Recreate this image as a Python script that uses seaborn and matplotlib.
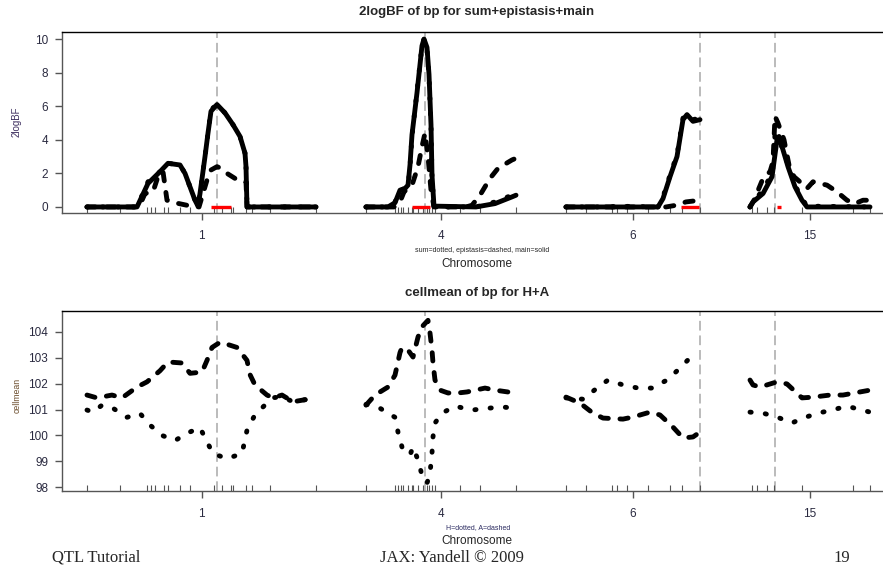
import matplotlib
matplotlib.use("Agg")
import matplotlib.pyplot as plt
import seaborn as sns
import numpy as np
import pandas as pd

# chromosome layout (cM)
chroms = ["1", "4", "6", "15"]
chrom_len = [114.5, 75, 67, 60]
gap = 25

markers = {
    "1": [0, 16.5, 30, 32, 34, 38.5, 40.5, 46.5, 51.5, 63.5, 67.5, 72, 73, 79.5, 82.5, 91.5, 114.5],
    "4": [0, 14.5, 16, 17.5, 18.5, 21, 23, 23.5, 26, 28.5, 30.5, 31.5, 33, 34.5, 47, 57, 75],
    "6": [0, 10, 23, 25.5, 30.5, 41, 52, 58, 67],
    "15": [1, 3.5, 8.5, 12, 26, 51.5, 60],
}
qtl_pos = {"1": 65, "4": 29.5, "6": 67, "15": 12.5}
ci_low = {"1": 62, "4": 23, "6": 57.5, "15": 13.5}
ci_high = {"1": 72, "4": 32, "6": 66.5, "15": 15.5}

# 2logBF, main effect (solid)
main_pos = {
    "1": [0, 25, 30.5, 36.5, 40.5, 46.5, 49, 54, 55.5, 56.5, 59, 60.5, 62, 65, 69, 73, 76.5, 79, 79.5, 80, 114.5],
    "4": [0, 11, 14.5, 17, 19.5, 21, 22, 23, 25.5, 28, 29, 30.5, 31.5, 32.5, 33, 34, 55, 64.5, 73, 75],
    "6": [0, 46, 48.5, 52, 55.5, 58.5, 60.5, 63.5, 67],
    "15": [0, 1.5, 6.5, 11, 13.5, 14.5, 16.5, 19, 22.5, 26, 28.5, 60],
}
main_val = {
    "1": [0, 0, 1.4, 2.1, 2.6, 2.5, 2.0, 0.4, 0.05, 0.8, 3.0, 4.4, 5.7, 6.1, 5.6, 4.9, 4.2, 3.2, 2.4, 0, 0],
    "4": [0, 0, 0.25, 1.0, 1.1, 1.3, 2.5, 4.3, 6.8, 9.6, 10.0, 9.5, 7.9, 4.9, 1.9, 0.05, 0, 0.2, 0.6, 0.7],
    "6": [0, 0, 0.5, 1.8, 3.0, 5.2, 5.5, 5.1, 5.2],
    "15": [0, 0.3, 0.8, 1.8, 4.0, 4.2, 3.4, 2.4, 1.2, 0.4, 0, 0],
}
# 2logBF, epistasis (dashed)
epi_pos = {
    "1": [0, 26, 29, 33, 36, 38, 40, 42, 46, 50, 56, 60, 62, 65, 67, 70, 74, 78, 79.5, 80, 114.5],
    "4": [0, 14, 17, 19, 21, 23, 26, 28, 29.5, 31, 32.5, 34, 50, 53, 57, 58.5, 62, 66, 73, 74],
    "6": [0, 50, 55, 60, 67],
    "15": [0, 2, 6.5, 10, 11.5, 12.5, 14, 17, 19.5, 22, 24, 28.5, 31.5, 38.5, 43.5, 48.5, 52.5, 56.5, 60],
}
epi_val = {
    "1": [0, 0, 0.8, 0.9, 2.0, 2.1, 0.4, 0.3, 0.2, 0.1, 0, 1.6, 2.2, 2.4, 2.3, 2.0, 1.7, 1.5, 1.5, 0, 0],
    "4": [0, 0, 0.3, 0.9, 1.1, 1.3, 2.4, 3.6, 4.4, 3.0, 1.0, 0, 0, 0.1, 0.7, 1.0, 1.7, 2.3, 2.8, 2.85],
    "6": [0, 0, 0.1, 0.3, 0.4],
    "15": [0, 0.4, 1.7, 2.1, 2.7, 5.4, 5.0, 4.0, 2.5, 1.8, 1.6, 1.1, 1.5, 1.3, 0.9, 0.4, 0.2, 0.4, 0.4],
}
# 2logBF, sum (dotted)
sum_pos = {
    "1": [0, 25, 30.5, 36.5, 40.5, 46.5, 49, 54, 55.5, 56.5, 59, 60.5, 62, 65, 69, 73, 76.5, 79, 79.5, 80, 114.5],
    "4": [0, 11, 14.5, 17, 19.5, 21, 22, 23, 25.5, 28, 29, 30.5, 31.5, 32.5, 33, 34, 55, 64.5, 73, 75],
    "6": [0, 23, 24, 46, 48.5, 52, 55.5, 58.5, 60.5, 63.5, 67],
    "15": [0, 1.5, 6.5, 11, 12.5, 13.5, 14.5, 16.5, 19, 22.5, 26, 28.5, 60],
}
sum_val = {
    "1": [0, 0, 1.5, 2.1, 2.6, 2.5, 2.0, 0.4, 0.1, 0.8, 3.0, 4.4, 5.8, 6.1, 5.6, 4.9, 4.2, 3.2, 2.4, 0, 0],
    "4": [0, 0, 0.3, 1.0, 1.1, 1.2, 2.4, 4.2, 6.9, 9.6, 10.0, 9.4, 7.8, 4.8, 1.8, 0, 0, 0.3, 0.7, 0.75],
    "6": [0, 0, 0.05, 0, 0.6, 1.9, 3.1, 5.3, 5.5, 5.2, 5.3],
    "15": [0, 0.3, 1.0, 2.0, 4.3, 4.2, 4.0, 3.4, 2.5, 1.3, 0.5, 0.05, 0],
}

# cell means, additive A (dashed)
a_pos = {
    "1": [0, 5, 12.5, 17.5, 25, 30, 36.5, 40.5, 47.5, 51.5, 57.5, 60, 62.5, 66.5, 69, 75, 80, 81.5, 84, 90, 93, 97.5, 103, 110.5, 114.5],
    "4": [0, 4.5, 11, 14.5, 17, 18, 21, 23.5, 26, 28, 31, 32, 33, 33.5, 34.5, 37, 41, 46, 50.5, 59.5, 64.5, 74.5],
    "6": [0, 7, 13.5, 18.5, 28.5, 33.5, 42, 47, 53.5, 58.5, 63.5, 67],
    "15": [0, 1.5, 5, 13.5, 18.5, 26, 31.5, 40, 46.5, 55, 60],
}
a_val = {
    "1": [101.56, 101.45, 101.56, 101.45, 101.87, 102.07, 102.5, 102.84, 102.8, 102.4, 102.45, 102.9, 103.4, 103.6, 103.55, 103.4, 102.9, 102.35, 101.95, 101.56, 101.45, 101.56, 101.3, 101.4, 101.45],
    "4": [101.17, 101.56, 101.87, 102.33, 103.2, 103.4, 103.3, 103.03, 103.8, 104.2, 104.45, 103.96, 103.3, 102.8, 102.14, 101.75, 101.64, 101.64, 101.68, 101.83, 101.75, 101.64],
    "6": [101.48, 101.25, 100.86, 100.67, 100.63, 100.71, 100.9, 100.79, 100.32, 99.9, 99.94, 100.13],
    "15": [102.14, 101.95, 101.87, 102.07, 101.99, 101.45, 101.48, 101.56, 101.56, 101.68, 101.75],
}
# cell means, dominance H (dotted)
h_pos = {
    "1": [0, 3, 7.5, 13, 20, 26.5, 31.5, 37.5, 44, 50.5, 56.5, 60, 63, 70, 77.5, 80, 84, 90, 92.5, 97.5, 103, 110.5, 114.5],
    "4": [0, 7, 14.5, 16, 18, 22, 23.5, 26, 28, 30.5, 32, 33, 33.5, 34.5, 38, 44.5, 53, 61, 68, 74.5],
    "6": [0, 8.5, 15.5, 21, 28.5, 36, 43, 50.5, 56, 61, 64],
    "15": [0, 6.5, 13.5, 21, 26.5, 34, 41, 48.5, 56, 60],
}
h_val = {
    "1": [100.98, 100.9, 101.17, 101.05, 100.7, 100.85, 100.4, 100.0, 99.8, 100.1, 100.3, 99.75, 99.3, 99.1, 99.3, 100.2, 100.8, 101.25, 101.45, 101.5, 101.3, 101.4, 101.45],
    "4": [101.2, 101.05, 100.7, 100.13, 99.55, 99.24, 99.55, 99.05, 98.46, 98.15, 98.54, 99.32, 99.94, 100.48, 100.86, 101.13, 100.98, 101.05, 101.1, 101.05],
    "6": [101.45, 101.4, 101.83, 102.14, 101.95, 101.83, 101.83, 102.14, 102.53, 102.92, 103.0],
    "15": [100.9, 100.86, 100.71, 100.48, 100.67, 100.86, 100.98, 101.13, 100.98, 100.9],
}

offsets = dict(zip(chroms, np.concatenate([[0], np.cumsum(np.array(chrom_len[:-1]) + gap)])))
centers = [offsets[c] + l / 2 for c, l in zip(chroms, chrom_len)]


def frame(pos, val):
    rows = []
    for c in chroms:
        for p, v in zip(pos[c], val[c]):
            rows.append((c, offsets[c] + p, v))
    return pd.DataFrame(rows, columns=["chrom", "x", "y"])


sns.set_style("white")
plt.rcParams["font.family"] = ["Liberation Sans", "DejaVu Sans"]

W, H = 883, 569
fig = plt.figure(figsize=(W / 100, H / 100), dpi=100)


def fx(px):
    return px / W


def fy(py):
    return 1 - py / H


ax1 = fig.add_axes([fx(62), fy(213), 1 - fx(62), (213 - 32) / H])
ax2 = fig.add_axes([fx(62), fy(491), 1 - fx(62), (491 - 311) / H])

dashed = (0, (1.7, 2.4))
dotted = (0, (0.25, 2.9))
line_kw = dict(x="x", y="y", units="chrom", estimator=None, sort=False,
               color="black", linewidth=3.5, dash_capstyle="round",
               solid_capstyle="round", solid_joinstyle="round", legend=False)

sns.lineplot(data=frame(sum_pos, sum_val), ax=ax1, linestyle=dotted, **line_kw)
sns.lineplot(data=frame(epi_pos, epi_val), ax=ax1, linestyle=dashed, **line_kw)
sns.lineplot(data=frame(main_pos, main_val), ax=ax1, linestyle="-", **line_kw)
for c in chroms:
    ax1.hlines(0, offsets[c] + ci_low[c], offsets[c] + ci_high[c], color="red", lw=2.4, zorder=5)

sns.lineplot(data=frame(h_pos, h_val), ax=ax2, linestyle=dotted, **line_kw)
sns.lineplot(data=frame(a_pos, a_val), ax=ax2, linestyle=dashed, **line_kw)

marker_abs = [offsets[c] + m for c in chroms for m in markers[c]]
for ax, yt in [(ax1, [0, 2, 4, 6, 8, 10]), (ax2, [98, 99, 100, 101, 102, 103, 104])]:
    for c in chroms:
        ax.axvline(offsets[c] + qtl_pos[c], color="#bbbbbb", lw=1.4,
                   linestyle=(0, (5, 2.5)), zorder=0.5)
    ax.set_xlim(-12.5, (W - 87) / 2)
    ax.set_xticks(centers)
    ax.set_xticklabels(chroms)
    ax.set_xticks(marker_abs, minor=True)
    ax.set_yticks(yt)
    ax.set_xlabel("")
    ax.set_ylabel("")
    ax.tick_params(axis="x", which="major", direction="out", length=5, width=1,
                   color="#555555", pad=7, labelsize=8.5, labelcolor="#2a2a40", bottom=True)
    ax.tick_params(axis="x", which="minor", direction="in", length=4, width=0.8,
                   color="#555555", bottom=True)
    ax.tick_params(axis="y", direction="out", length=5, width=1, color="#555555",
                   pad=5, labelsize=8.5, labelcolor="#2a2a40", left=True)
    for s in ["left", "bottom"]:
        ax.spines[s].set_color("#555555")
        ax.spines[s].set_linewidth(1)
    ax.spines["top"].set_color("black")
    ax.spines["top"].set_linewidth(1)
    ax.spines["right"].set_visible(False)

ax1.set_ylim(-0.36, 10.42)
ax2.set_ylim(97.85, 104.81)

fig.text(fx(477), fy(12), "2logBF of bp for sum+epistasis+main", ha="center", va="center",
         fontsize=9.5, fontweight="bold")
fig.text(fx(482), fy(251), "sum=dotted, epistasis=dashed, main=solid", ha="center",
         va="center", fontsize=5)
fig.text(fx(477), fy(264), "Chromosome", ha="center", va="center", fontsize=8.5)
fig.text(fx(17), fy(122), "2logBF", rotation=90, ha="center", va="center", fontsize=7,
         color="#3f3060")

fig.text(fx(477), fy(293), "cellmean of bp for H+A", ha="center", va="center",
         fontsize=9.5, fontweight="bold")
fig.text(fx(478), fy(528), "H=dotted, A=dashed", ha="center", va="center", fontsize=5,
         color="#2a2a60")
fig.text(fx(477), fy(541), "Chromosome", ha="center", va="center", fontsize=8.5)
fig.text(fx(17), fy(395), "cellmean", rotation=90, ha="center", va="center", fontsize=6.3,
         color="#6a4b2a")

serif = ["Liberation Serif", "DejaVu Serif"]
fig.text(fx(52), fy(558), "QTL Tutorial", ha="left", va="center", fontsize=12, family=serif)
fig.text(fx(452), fy(558), "JAX: Yandell \u00a9 2009", ha="center", va="center",
         fontsize=12, family=serif)
fig.text(fx(842), fy(558), "19", ha="center", va="center", fontsize=12, family=serif)

fig.savefig("out.png", dpi=100)
